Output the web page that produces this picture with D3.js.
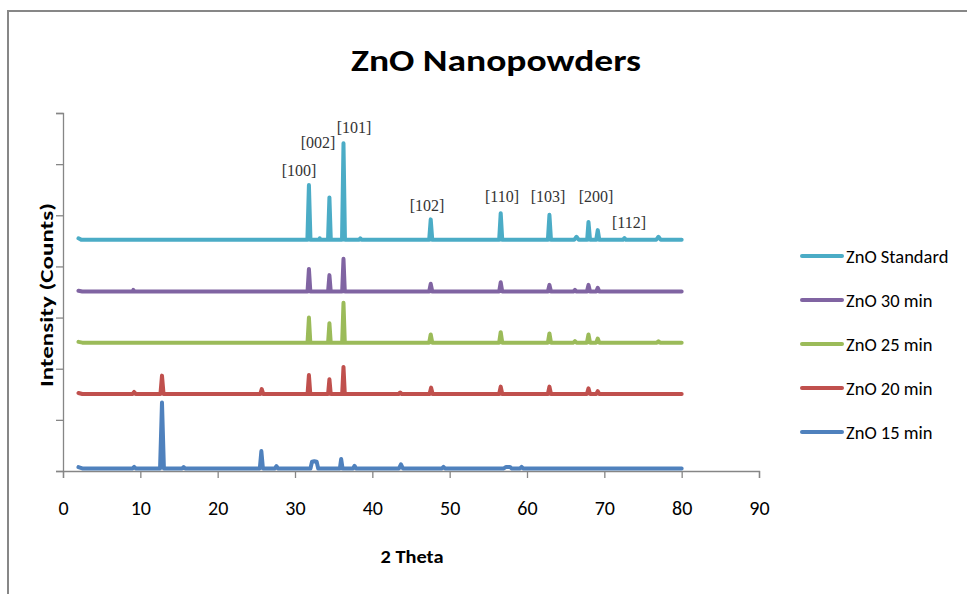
<!DOCTYPE html>
<html>
<head>
<meta charset="utf-8">
<script src="https://cdn.jsdelivr.net/npm/d3@7"></script>
<style>
  html, body { margin: 0; padding: 0; background: #fff; }
  svg { display: block; font-family: Carlito, Calibri, Lato, "Open Sans", sans-serif; }
</style>
</head>
<body>
<svg id="chart" width="967" height="594"></svg>
<script>
// ---------------- data ----------------
const categories = ["ZnO 15 min", "ZnO 20 min", "ZnO 25 min", "ZnO 30 min", "ZnO Standard"];
const legendOrder = ["ZnO Standard", "ZnO 30 min", "ZnO 25 min", "ZnO 20 min", "ZnO 15 min"];
const xTicks = [0, 10, 20, 30, 40, 50, 60, 70, 80, 90];
const yTicks = [0, 1000, 2000, 3000, 4000, 5000, 6000, 7000];
// vertical offset (counts) of each pattern
const offsets = [50, 1505, 2510, 3510, 4520];

// [2θ, intensity above own baseline]
const zno15 = [[2,25],[2.5,0],[9.0,0],[9.2,30],[9.4,0],[12.55,0],[12.8,1290],[13.05,0],[15.4,0],[15.6,25],[15.8,0],
  [25.45,0],[25.65,340],[25.85,0],[27.4,0],[27.6,45],[27.8,0],[32.0,0],[32.2,130],[32.5,140],[32.8,130],[33.0,0],
  [35.8,0],[35.97,185],[36.15,0],[37.5,0],[37.7,50],[37.9,0],[43.45,0],[43.7,80],[43.95,0],[49.0,0],[49.2,30],[49.4,0],
  [57.0,0],[57.3,30],[57.8,30],[58.0,0],[59.1,0],[59.3,30],[59.5,0],[80,0]];
const zno20 = [[2,20],[2.5,0],[9.0,0],[9.2,40],[9.4,0],[12.6,0],[12.8,360],[13.0,0],[25.5,0],[25.7,95],[25.9,0],
  [31.62,0],[31.8,370],[31.98,0],[34.28,0],[34.45,290],[34.62,0],[36.1,0],[36.27,530],[36.44,0],
  [43.4,0],[43.6,30],[43.8,0],[47.4,0],[47.6,125],[47.8,0],[56.4,0],[56.6,145],[56.8,0],[62.7,0],[62.9,145],[63.1,0],
  [67.75,0],[67.95,110],[68.15,0],[68.95,0],[69.15,55],[69.35,0],[80,0]];
const zno25 = [[2,15],[2.5,0],[31.62,0],[31.8,490],[31.98,0],[34.28,0],[34.45,380],[34.62,0],[36.1,0],[36.27,780],[36.44,0],
  [47.35,0],[47.55,160],[47.75,0],[56.4,0],[56.6,205],[56.8,0],[62.7,0],[62.9,180],[63.1,0],[66.0,0],[66.2,30],[66.4,0],
  [67.75,0],[67.95,160],[68.15,0],[68.95,0],[69.15,80],[69.35,0],[76.8,0],[77.0,25],[77.2,0],[80,0]];
const zno30 = [[2,15],[2.5,0],[9.0,0],[9.1,30],[9.2,0],[31.62,0],[31.8,440],[31.98,0],[34.28,0],[34.45,320],[34.62,0],
  [36.1,0],[36.27,640],[36.44,0],[47.35,0],[47.55,150],[47.75,0],[56.4,0],[56.6,180],[56.8,0],[62.7,0],[62.9,130],[63.1,0],
  [66.0,0],[66.2,30],[66.4,0],[67.75,0],[67.95,130],[68.15,0],[68.95,0],[69.15,70],[69.35,0],[80,0]];
const znoStd = [[2,30],[2.4,0],[31.6,0],[31.8,1070],[32.0,0],[33.1,0],[33.2,30],[33.3,0],[34.27,0],[34.45,830],[34.63,0],
  [36.08,0],[36.27,1890],[36.46,0],[38.3,0],[38.45,30],[38.6,0],[47.35,0],[47.55,400],[47.75,0],
  [56.4,0],[56.6,520],[56.8,0],[62.7,0],[62.9,490],[63.1,0],[66.1,0],[66.4,60],[66.7,0],
  [67.78,0],[67.95,350],[68.15,0],[68.95,0],[69.15,190],[69.35,0],[72.4,0],[72.6,35],[72.8,0],
  [76.7,0],[77.0,60],[77.3,0],[80,0]];
const seriesValues = [zno15, zno20, zno25, zno30, znoStd];

// peak index labels (label centre in 2θ / counts)
const peakLabels = ["[100]", "[002]", "[101]", "[102]", "[110]", "[103]", "[200]", "[112]"];
const peakLabelX = [30.52, 32.98, 37.63, 47.07, 56.77, 62.72, 68.92, 73.19];
const peakLabelY = [5866, 6414, 6707, 5182, 5358, 5358, 5377, 4855];

// ---------------- style ----------------
const colors = ["#4F81BD", "#C0504D", "#9BBB59", "#8064A2", "#4BACC6"];
const axisColor = "#868686";
const sansFont = "Carlito, Calibri, Lato, 'Open Sans', sans-serif";
const serifFont = "'Liberation Serif', 'Times New Roman', serif";

const svg = d3.select("#chart");

// outer border
svg.append("rect").attr("x", 8).attr("y", 11).attr("width", 980).attr("height", 600)
  .attr("fill", "none").attr("stroke", "#878787").attr("stroke-width", 2);

const x = d3.scaleLinear().domain([0, 90]).range([63, 759]);
const y = d3.scaleLinear().domain([0, 7000]).range([471, 113]);

// title
svg.append("text").attr("x", 496).attr("y", 71).attr("text-anchor", "middle")
  .style("font-family", sansFont).style("font-size", "31px").style("font-weight", "bold").attr("fill", "#000")
  .attr("textLength", 290).attr("lengthAdjust", "spacingAndGlyphs")
  .text("ZnO Nanopowders");

// y axis
const yAxis = d3.axisLeft(y).tickValues(yTicks).tickSize(7).tickFormat("");
const gy = svg.append("g").attr("transform", "translate(63,0)").call(yAxis);
gy.select(".domain").attr("stroke", axisColor).attr("stroke-width", 1.3);
gy.selectAll(".tick line").attr("stroke", axisColor).attr("stroke-width", 1.3);

// x axis
const xAxis = d3.axisBottom(x).tickValues(xTicks).tickSize(7).tickPadding(0).tickFormat(d3.format("d"));
const gx = svg.append("g").attr("transform", "translate(0,471)").call(xAxis);
gx.select(".domain").attr("stroke", axisColor).attr("stroke-width", 1.3);
gx.selectAll(".tick line").attr("stroke", axisColor).attr("stroke-width", 1.3);
gx.selectAll(".tick text").attr("y", 39).attr("dy", null).attr("dominant-baseline", "middle")
  .style("font-family", sansFont).style("font-size", "20px").attr("fill", "#000");

// axis titles
svg.append("text").attr("x", 412).attr("y", 563).attr("text-anchor", "middle")
  .style("font-family", sansFont).style("font-size", "17px").style("font-weight", "bold").attr("fill", "#000")
  .attr("textLength", 63).attr("lengthAdjust", "spacingAndGlyphs").text("2 Theta");
svg.append("text").attr("transform", "translate(53,295) rotate(-90)").attr("text-anchor", "middle")
  .style("font-family", sansFont).style("font-size", "19px").style("font-weight", "bold").attr("fill", "#000")
  .attr("textLength", 184).attr("lengthAdjust", "spacingAndGlyphs").text("Intensity (Counts)");

// series lines
const line = d3.line().x(d => x(d[0])).y(d => y(d[1])).curve(d3.curveLinear);
seriesValues.forEach((vals, i) => {
  const pts = vals.map(p => [p[0], p[1] + offsets[i]]);
  svg.append("path").datum(pts).attr("d", line)
    .attr("fill", "none").attr("stroke", colors[i]).attr("stroke-width", 4)
    .attr("stroke-linejoin", "round").attr("stroke-linecap", "round");
});

// peak labels
peakLabels.forEach((lab, i) => {
  svg.append("text").attr("x", x(peakLabelX[i])).attr("y", y(peakLabelY[i]))
    .attr("text-anchor", "middle").attr("dominant-baseline", "central")
    .style("font-family", serifFont).style("font-size", "16px").attr("fill", "#333").text(lab);
});

// legend
const legendY = [256, 300, 344, 388, 432];
legendOrder.forEach((name, i) => {
  const ci = categories.indexOf(name);
  const g = svg.append("g").attr("transform", `translate(0,${legendY[i]})`);
  g.append("line").attr("x1", 802).attr("x2", 842).attr("y1", 0).attr("y2", 0)
    .attr("stroke", colors[ci]).attr("stroke-width", 4).attr("stroke-linecap", "round");
  g.append("text").attr("x", 846).attr("y", 0).attr("dominant-baseline", "central")
    .style("font-family", sansFont).style("font-size", "18.5px").attr("fill", "#000").text(name);
});
</script>
</body>
</html>
